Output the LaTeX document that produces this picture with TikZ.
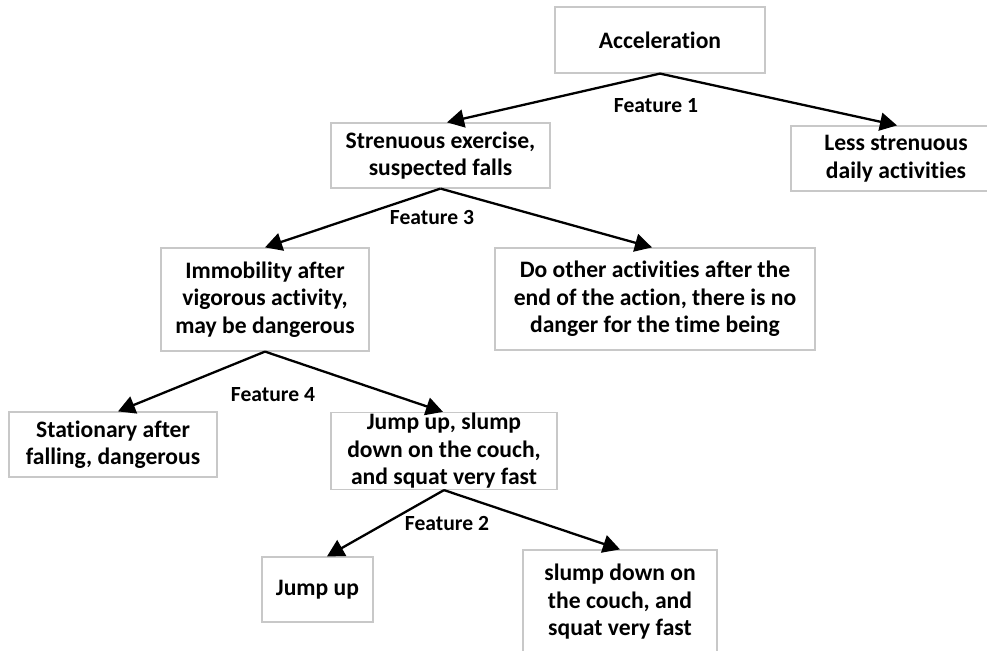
\documentclass[tikz,border=0pt]{standalone}
\usepackage{fontspec}
\setmainfont[Ligatures=NoCommon]{Carlito}
\usetikzlibrary{arrows.meta}
\definecolor{boxgray}{RGB}{200,200,200}
\begin{document}
\begin{tikzpicture}[x=0.5pt,y=-0.5pt,
  box/.style={draw=boxgray, line width=0.6pt, align=center, inner sep=0pt,
    font=\fontsize{11.8}{13.75}\selectfont\bfseries},
  feat/.style={inner sep=0pt, font=\fontsize{10.8}{12}\selectfont\bfseries},
  arr/.style={line width=1.15pt, -{Triangle[length=8.5pt,width=9pt]}}]
\clip (0,0) rectangle (987,651);
\fill[white] (0,0) rectangle (987,651);

\node[box, minimum width=105pt, minimum height=33pt] (acc) at (660,40) {Acceleration};
\node[box, minimum width=109.5pt, minimum height=32.5pt] (str) at (440.5,155.5) {Strenuous exercise,\\suspected falls};
\node[box, minimum width=105pt, minimum height=32.5pt] (less) at (896,158.5) {Less strenuous\\daily activities};
\node[box, minimum width=104pt, minimum height=51.5pt] (imm) at (265,299.5) {Immobility after\\vigorous activity,\\may be dangerous};
\node[box, minimum width=160pt, minimum height=51pt] (doo) at (655,299) {Do other activities after the\\end of the action, there is no\\danger for the time being};
\node[box, minimum width=104pt, minimum height=32.5pt] (sta) at (113,444.5) {Stationary after\\falling, dangerous};
\node[box, minimum width=113pt, minimum height=38.5pt] (jus) at (444,451) {Jump up, slump\\down on the couch,\\and squat very fast};
\node[box, minimum width=55.5pt, minimum height=32.5pt] (jum) at (317.5,589.5) {Jump up};
\node[box, minimum width=97pt, minimum height=52pt] (slu) at (620,602) {slump down on\\the couch, and\\squat very fast};

\node[feat] (f1) at (656,106) {Feature 1};
\node[feat] (f3) at (432,218) {Feature 3};
\node[feat] (f4) at (273,395) {Feature 4};
\node[feat] (f2) at (447,524) {Feature 2};

\draw[arr] (acc.south) -- ([xshift=3.25pt]str.north);
\draw[arr] (acc.south) -- ([xshift=0.5pt]less.north);
\draw[arr] (str.south) -- (imm.north);
\draw[arr] (str.south) -- ([xshift=-1.5pt]doo.north);
\draw[arr] (imm.south) -- ([xshift=2.5pt]sta.north);
\draw[arr] (imm.south) -- ([xshift=-0.5pt]jus.north);
\draw[arr] (jus.south) -- ([xshift=4.75pt]jum.north);
\draw[arr] (jus.south) -- (slu.north);
\end{tikzpicture}
\end{document}
